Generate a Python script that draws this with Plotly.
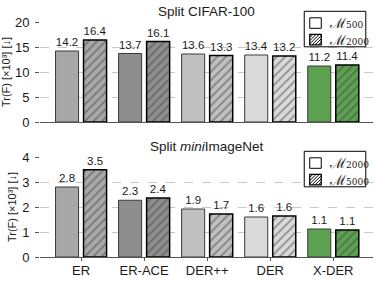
import plotly.graph_objects as go
from plotly.subplots import make_subplots

categories = ["ER", "ER-ACE", "DER++", "DER", "X-DER"]
cifar_m500 = [14.2, 13.7, 13.6, 13.4, 11.2]
cifar_m2000 = [16.4, 16.1, 13.3, 13.2, 11.4]
mini_m2000 = [2.8, 2.27, 1.92, 1.6, 1.12]
mini_m5000 = [3.49, 2.36, 1.72, 1.64, 1.08]
bar_colors = ["#a8a8a8", "#8e8e8e", "#c0c0c0", "#dadada", "#5ba150"]
titles = ["Split CIFAR-100", "Split <i>mini</i>ImageNet"]
legend_top = ["500", "2000"]
legend_bot = ["2000", "5000"]
ytitle = "Tr(F) [×10³] [↓]"

W, H = 379, 281
L, R, T, B = 40, 372.7, 22, 257
FONT = "Liberation Sans, Arial, sans-serif"


def xp(px):
    return (px - L) / (R - L)


def yp(py):
    return (B - py) / (B - T)


fig = make_subplots(rows=2, cols=1, vertical_spacing=35 / 235)

def add_pair(vals_a, vals_b, row):
    fig.add_trace(go.Bar(
        x=categories, y=vals_a, marker=dict(color=bar_colors, line=dict(color="#3a3a3a", width=1)),
        texttemplate="%{y:.1f}", textposition="outside", cliponaxis=False,
        textfont=dict(size=11.5, color="#1a1a1a", family=FONT), showlegend=False), row=row, col=1)
    fig.add_trace(go.Bar(
        x=categories, y=vals_b,
        marker=dict(color=bar_colors, line=dict(color="#000000", width=1.5),
                    pattern=dict(shape="/", fillmode="overlay", fgcolor="#000000", size=6, solidity=0.3)),
        texttemplate="%{y:.1f}", textposition="outside", cliponaxis=False,
        textfont=dict(size=11.5, color="#1a1a1a", family=FONT), showlegend=False), row=row, col=1)

add_pair(cifar_m500, cifar_m2000, 1)
add_pair(mini_m2000, mini_m5000, 2)

fig.update_layout(
    template="none",
    width=W, height=H, margin=dict(l=L, r=W - R, t=T, b=H - B, pad=0),
    paper_bgcolor="white", plot_bgcolor="white",
    barmode="group", bargap=0.111, bargroupgap=0.178,
    font=dict(family=FONT, size=13, color="#1a1a1a"),
)

xcommon = dict(range=[-0.651, 4.63], showline=True, linecolor="#555555", linewidth=1,
               showgrid=False, zeroline=False, automargin=False, tickfont=dict(size=13, family=FONT))
fig.update_xaxes(**xcommon, showticklabels=False, ticks="", row=1, col=1)
fig.update_xaxes(**xcommon, showticklabels=True, ticks="outside", ticklen=3, tickcolor="#555555",
                 ticklabelstandoff=-2, row=2, col=1)

ycommon = dict(showgrid=True, gridcolor="#c8c8c8", griddash="dash", gridwidth=1, zeroline=False,
               showline=False, ticks="outside", ticklen=4, tickcolor="#555555", automargin=False,
               ticklabelstandoff=3,
               tickfont=dict(size=13, family=FONT),
               title=dict(text=ytitle, font=dict(size=11, family=FONT), standoff=3))
fig.update_yaxes(**ycommon, range=[0, 20], tickvals=[0, 5, 10, 15, 20], row=1, col=1)
fig.update_yaxes(**ycommon, range=[0, 4], tickvals=[0, 1, 2, 3, 4], row=2, col=1)

# subplot titles
for text, cy in zip(titles, [11.5, 146.5]):
    fig.add_annotation(text=text, xref="paper", yref="paper", x=0.5, y=yp(cy),
                       xanchor="center", yanchor="middle", showarrow=False,
                       font=dict(size=13.5, family=FONT, color="#1a1a1a"))

# manual legends
def hatch_path(x0, y0, x1, y1, step=3.2):
    segs = []
    c = x0 + y0 + step
    while c < x1 + y1:
        pts = []
        for x in (x0, x1):
            y = c - x
            if y0 <= y <= y1:
                pts.append((x, y))
        for y in (y0, y1):
            x = c - y
            if x0 <= x <= x1:
                pts.append((x, y))
        pts = sorted(set(pts))
        if len(pts) >= 2:
            (ax, ay), (bx, by) = pts[0], pts[-1]
            segs.append(f"M{xp(ax)},{yp(ay)} L{xp(bx)},{yp(by)}")
        c += step
    return " ".join(segs)


def add_legend(box_top, labels):
    bx0, bx1 = 304, 365.5
    by0, by1 = box_top, box_top + 35.5
    fig.add_shape(type="rect", xref="paper", yref="paper", x0=xp(bx0), x1=xp(bx1),
                  y0=yp(by1), y1=yp(by0), line=dict(color="#000000", width=1), fillcolor="white", layer="above")
    centers = []
    for i, lab in enumerate(labels):
        sy0 = box_top + 6.5 + i * 16.5
        sy1 = sy0 + 10.5
        centers.append((sy0 + sy1) / 2)
        sx0, sx1 = 309.5, 321
        if i == 1:
            fig.add_shape(type="path", xref="paper", yref="paper",
                          path=hatch_path(sx0, sy0, sx1, sy1), line=dict(color="#000000", width=1), layer="above")
        fig.add_shape(type="rect", xref="paper", yref="paper", x0=xp(sx0), x1=xp(sx1),
                      y0=yp(sy1), y1=yp(sy0), line=dict(color="#000000", width=1.3 if i else 1), layer="above")
    text = "<br>".join(
        f"<span style='font-size:14px'>ℳ</span><span style='font-size:9px'>{lab}</span>" for lab in labels)
    fig.add_annotation(text=text, xref="paper", yref="paper", x=xp(327),
                       y=yp(sum(centers) / 2 + 0.5), xanchor="left", yanchor="middle", align="left",
                       showarrow=False, font=dict(size=12.7, family="DejaVu Serif, serif", color="#1a1a1a"))

add_legend(11.3, legend_top)
add_legend(151.3, legend_bot)

fig.write_html("out.html", config={"displayModeBar": False},
               post_script="document.body.style.margin='0';document.body.style.overflow='hidden';")
